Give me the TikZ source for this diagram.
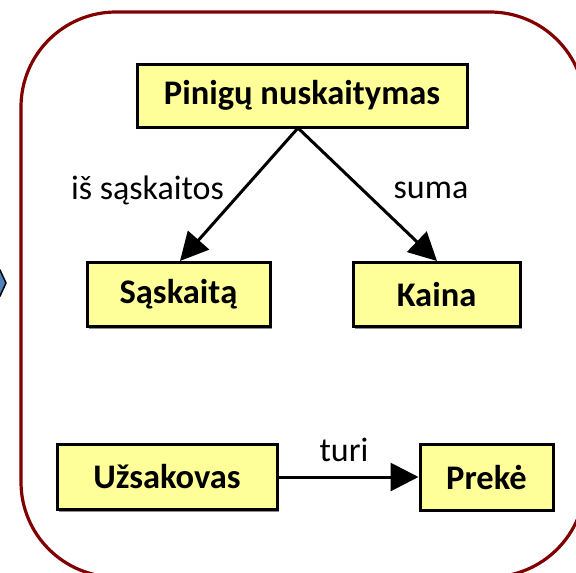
\documentclass[tikz,border=0pt]{standalone}
\usepackage{fontspec}
\setmainfont{Carlito}
\usetikzlibrary{arrows.meta,shadows}
\definecolor{frame}{HTML}{800000}
\definecolor{boxfill}{HTML}{FFFF99}
\definecolor{tipblue}{HTML}{4F81BD}
\tikzset{
  conc/.style={draw=black, line width=3pt, fill=boxfill, font=\fontsize{34.5}{38}\selectfont\bfseries,
    drop shadow={shadow xshift=2pt, shadow yshift=-2pt, fill=black!45, opacity=1}},
  rel/.style={draw=black, line width=3pt, -{Triangle[length=28pt,width=28pt]}},
  lbl/.style={font=\fontsize{34}{38}\selectfont, inner sep=0pt}
}
\begin{document}
\begin{tikzpicture}[x=1pt,y=-1pt]
\useasboundingbox (0,0) rectangle (576,573);
\draw[frame, line width=3.2pt, rounded corners=95pt] (21,12) rectangle (585,577);
\fill[tipblue, draw=black, line width=1.5pt] (-20,270) -- (0,270) -- (6,283) -- (0,296) -- (-20,296) -- cycle;
\node[conc, minimum width=330pt, minimum height=63pt] (pn) at (302,95.5) {Pinigų nuskaitymas};
\node[conc, minimum width=183pt, minimum height=64pt] (sa) at (178.5,294.5) {Sąskaitą};
\node[conc, minimum width=167pt, minimum height=64pt] (ka) at (436.5,294.5) {Kaina};
\node[conc, minimum width=220pt, minimum height=65pt] (uz) at (167,477) {Užsakovas};
\node[conc, minimum width=133pt, minimum height=66pt] (pr) at (486.5,477) {Prekė};
\coordinate (pb) at (298,128);
\draw[rel] (pb) -- (sa.north -| 180,0);
\draw[rel] (pb) -- (ka.north -| 437,0);
\draw[rel] (uz) -- (pr);
\node[lbl] (l1) at (147.5,190) {iš sąskaitos};
\node[lbl] (l2) at (431,190) {suma};
\node[lbl] (l3) at (344,450) {turi};
\end{tikzpicture}
\end{document}
